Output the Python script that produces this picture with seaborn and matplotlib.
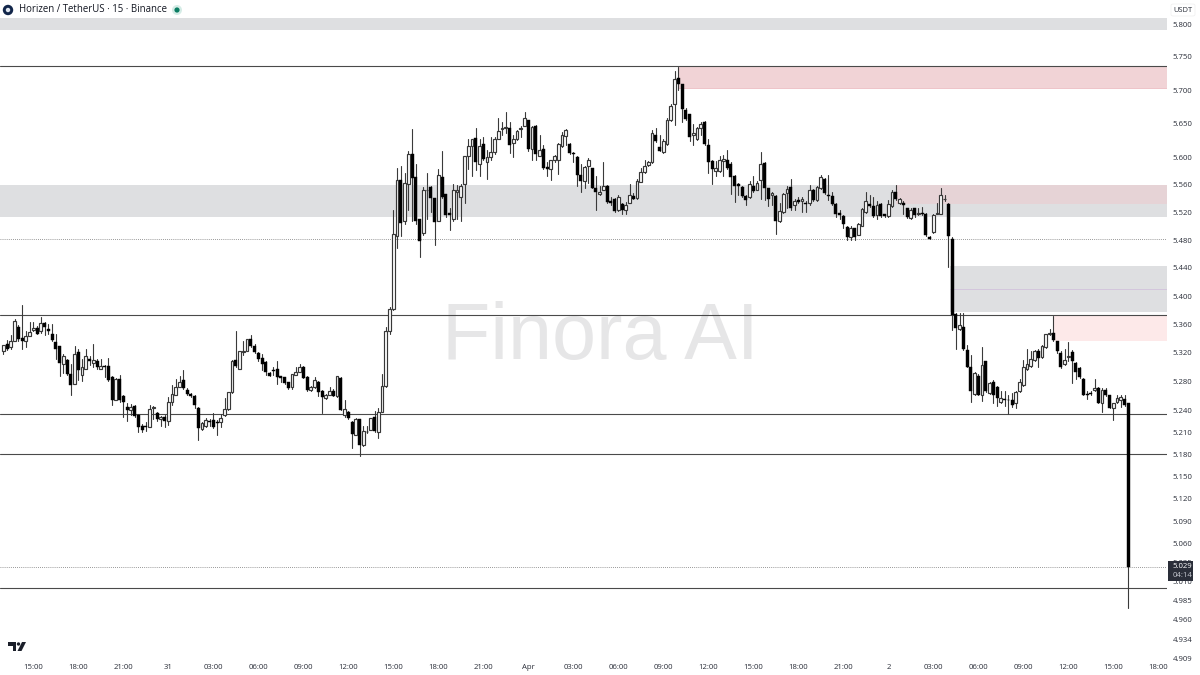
import numpy as np
import pandas as pd
import matplotlib
matplotlib.use("Agg")
import matplotlib.pyplot as plt
from matplotlib.patches import Ellipse, Rectangle, FancyBboxPatch, Polygon
import seaborn as sns

# 15 minute candles
candle_open = [
    5.322, 5.332, 5.328, 5.337, 5.357, 5.341, 5.336, 5.344, 5.352, 5.355, 5.350, 5.362,
    5.353, 5.346, 5.335, 5.329, 5.304, 5.310, 5.291, 5.277, 5.321, 5.289, 5.298, 5.311,
    5.306, 5.309, 5.298, 5.302, 5.302, 5.286, 5.255, 5.284, 5.260, 5.245, 5.241, 5.246,
    5.234, 5.219, 5.219, 5.217, 5.244, 5.237, 5.228, 5.231, 5.225, 5.252, 5.262, 5.273,
    5.282, 5.269, 5.263, 5.260, 5.244,
    5.215, 5.219, 5.226, 5.227, 5.224, 5.224, 5.234, 5.242, 5.265, 5.310, 5.297, 5.321,
    5.323, 5.340, 5.330, 5.320, 5.313, 5.307, 5.292, 5.296, 5.297, 5.288, 5.286, 5.279,
    5.272, 5.289, 5.294, 5.301, 5.287, 5.268, 5.272, 5.280, 5.267, 5.258, 5.262, 5.267,
    5.260, 5.285, 5.234, 5.238, 5.224, 5.207, 5.228, 5.193, 5.211, 5.213, 5.231, 5.210,
    5.238, 5.274,
    5.350, 5.382, 5.486, 5.567, 5.507, 5.561, 5.605, 5.572, 5.511, 5.490, 5.552, 5.557,
    5.541, 5.508, 5.571, 5.546, 5.519, 5.510, 5.550, 5.542, 5.561, 5.603, 5.617, 5.629,
    5.590, 5.620, 5.594, 5.601, 5.608, 5.628, 5.642, 5.644, 5.644, 5.622, 5.627, 5.642,
    5.647, 5.655, 5.612, 5.647, 5.602, 5.613, 5.586, 5.584, 5.596, 5.596, 5.617, 5.632,
    5.620, 5.607, 5.601,
    5.574, 5.565, 5.588, 5.585, 5.555, 5.546, 5.553, 5.559, 5.537, 5.540, 5.523, 5.532,
    5.524, 5.534, 5.544, 5.541, 5.564, 5.579, 5.589, 5.593, 5.634, 5.616, 5.608, 5.620,
    5.656, 5.679, 5.719, 5.709, 5.670, 5.664, 5.634, 5.628, 5.644, 5.653, 5.619, 5.595,
    5.580, 5.580, 5.595, 5.597, 5.591, 5.573, 5.562, 5.557, 5.544, 5.543, 5.559, 5.553,
    5.567, 5.592, 5.555,
    5.545, 5.544, 5.508, 5.520, 5.548, 5.557, 5.531, 5.538, 5.536, 5.533, 5.533, 5.552,
    5.538, 5.555, 5.569, 5.545, 5.544, 5.532, 5.519, 5.515, 5.499, 5.485, 5.497, 5.488,
    5.501, 5.520, 5.532, 5.529, 5.516, 5.532, 5.517, 5.515, 5.529, 5.550, 5.533, 5.533,
    5.526, 5.512, 5.526, 5.518, 5.519, 5.518, 5.485, 5.492, 5.518, 5.518, 5.539, 5.532,
    5.482,
    5.375, 5.353, 5.357, 5.324, 5.300, 5.263, 5.288, 5.262, 5.308, 5.264, 5.280, 5.273,
    5.252, 5.256, 5.255, 5.254, 5.251, 5.267, 5.276, 5.297, 5.302, 5.310, 5.322, 5.314,
    5.328, 5.346, 5.348, 5.336, 5.320, 5.305, 5.314, 5.321, 5.306, 5.299, 5.284, 5.263,
    5.264, 5.269, 5.271, 5.250, 5.269, 5.261, 5.244, 5.252, 5.255, 5.256, 5.250,
]
candle_high = [
    5.331, 5.338, 5.345, 5.368, 5.359, 5.388, 5.350, 5.364, 5.364, 5.358, 5.371, 5.363,
    5.361, 5.361, 5.347, 5.330, 5.319, 5.311, 5.304, 5.329, 5.325, 5.311, 5.325, 5.316,
    5.332, 5.311, 5.312, 5.303, 5.313, 5.288, 5.285, 5.289, 5.261, 5.250, 5.249, 5.248,
    5.235, 5.222, 5.224, 5.247, 5.246, 5.238, 5.233, 5.234, 5.259, 5.275, 5.284, 5.288,
    5.296, 5.271, 5.264, 5.261, 5.245,
    5.224, 5.230, 5.228, 5.236, 5.227, 5.235, 5.258, 5.266, 5.310, 5.350, 5.322, 5.336,
    5.340, 5.345, 5.333, 5.321, 5.319, 5.308, 5.294, 5.301, 5.309, 5.288, 5.287, 5.280,
    5.291, 5.300, 5.304, 5.302, 5.288, 5.274, 5.286, 5.281, 5.268, 5.263, 5.273, 5.270,
    5.288, 5.286, 5.255, 5.240, 5.225, 5.230, 5.229, 5.219, 5.219, 5.230, 5.240, 5.244,
    5.291, 5.357,
    5.385, 5.523, 5.585, 5.588, 5.578, 5.610, 5.642, 5.590, 5.511, 5.557, 5.577, 5.558,
    5.541, 5.584, 5.609, 5.547, 5.526, 5.561, 5.560, 5.561, 5.602, 5.628, 5.628, 5.644,
    5.628, 5.631, 5.611, 5.631, 5.630, 5.659, 5.652, 5.667, 5.652, 5.633, 5.641, 5.647,
    5.667, 5.656, 5.646, 5.648, 5.634, 5.619, 5.593, 5.597, 5.604, 5.621, 5.638, 5.642,
    5.621, 5.608, 5.602,
    5.590, 5.588, 5.600, 5.585, 5.573, 5.558, 5.593, 5.560, 5.543, 5.541, 5.545, 5.533,
    5.535, 5.561, 5.548, 5.568, 5.585, 5.597, 5.595, 5.641, 5.644, 5.633, 5.628, 5.658,
    5.680, 5.729, 5.735, 5.710, 5.674, 5.665, 5.650, 5.645, 5.653, 5.654, 5.628, 5.596,
    5.595, 5.602, 5.604, 5.611, 5.593, 5.574, 5.563, 5.559, 5.545, 5.565, 5.573, 5.565,
    5.608, 5.593, 5.556,
    5.550, 5.545, 5.533, 5.548, 5.558, 5.568, 5.540, 5.543, 5.543, 5.536, 5.560, 5.554,
    5.559, 5.575, 5.570, 5.575, 5.550, 5.533, 5.523, 5.516, 5.500, 5.500, 5.498, 5.505,
    5.526, 5.549, 5.545, 5.542, 5.536, 5.533, 5.518, 5.538, 5.552, 5.560, 5.541, 5.536,
    5.527, 5.527, 5.527, 5.527, 5.528, 5.519, 5.486, 5.518, 5.533, 5.555, 5.545, 5.533,
    5.484,
    5.376, 5.376, 5.376, 5.331, 5.317, 5.293, 5.290, 5.328, 5.308, 5.280, 5.282, 5.274,
    5.267, 5.267, 5.262, 5.264, 5.267, 5.284, 5.310, 5.325, 5.323, 5.324, 5.326, 5.331,
    5.346, 5.353, 5.372, 5.337, 5.322, 5.326, 5.335, 5.324, 5.307, 5.300, 5.285, 5.267,
    5.267, 5.284, 5.272, 5.271, 5.271, 5.262, 5.251, 5.262, 5.262, 5.262, 5.251,
]
candle_low = [
    5.319, 5.324, 5.325, 5.336, 5.336, 5.325, 5.328, 5.343, 5.350, 5.346, 5.348, 5.345,
    5.347, 5.336, 5.312, 5.288, 5.292, 5.289, 5.261, 5.277, 5.282, 5.281, 5.297, 5.303,
    5.301, 5.298, 5.297, 5.286, 5.281, 5.247, 5.254, 5.252, 5.231, 5.225, 5.234, 5.231,
    5.210, 5.210, 5.212, 5.217, 5.228, 5.226, 5.219, 5.217, 5.220, 5.247, 5.261, 5.273,
    5.270, 5.262, 5.259, 5.244, 5.200,
    5.214, 5.218, 5.219, 5.216, 5.206, 5.218, 5.233, 5.241, 5.264, 5.301, 5.297, 5.317,
    5.322, 5.328, 5.320, 5.308, 5.296, 5.289, 5.288, 5.289, 5.277, 5.280, 5.277, 5.270,
    5.270, 5.289, 5.293, 5.285, 5.267, 5.267, 5.271, 5.260, 5.237, 5.256, 5.261, 5.260,
    5.259, 5.241, 5.231, 5.228, 5.189, 5.207, 5.178, 5.192, 5.209, 5.213, 5.211, 5.202,
    5.238, 5.273,
    5.347, 5.380, 5.469, 5.486, 5.503, 5.523, 5.508, 5.503, 5.455, 5.488, 5.511, 5.521,
    5.473, 5.507, 5.541, 5.513, 5.494, 5.508, 5.511, 5.508, 5.533, 5.583, 5.573, 5.582,
    5.573, 5.597, 5.568, 5.596, 5.606, 5.627, 5.633, 5.636, 5.607, 5.601, 5.626, 5.631,
    5.646, 5.610, 5.596, 5.597, 5.602, 5.583, 5.573, 5.567, 5.593, 5.576, 5.616, 5.618,
    5.606, 5.593, 5.558,
    5.549, 5.555, 5.563, 5.555, 5.524, 5.545, 5.552, 5.534, 5.530, 5.520, 5.522, 5.517,
    5.518, 5.533, 5.539, 5.540, 5.564, 5.578, 5.588, 5.592, 5.623, 5.609, 5.607, 5.619,
    5.654, 5.648, 5.701, 5.653, 5.655, 5.624, 5.619, 5.626, 5.633, 5.619, 5.577, 5.562,
    5.573, 5.579, 5.573, 5.584, 5.547, 5.535, 5.545, 5.542, 5.531, 5.541, 5.550, 5.552,
    5.539, 5.538, 5.529,
    5.531, 5.489, 5.506, 5.519, 5.526, 5.524, 5.523, 5.533, 5.521, 5.521, 5.531, 5.536,
    5.537, 5.554, 5.547, 5.538, 5.531, 5.514, 5.511, 5.498, 5.480, 5.480, 5.480, 5.487,
    5.500, 5.519, 5.528, 5.514, 5.511, 5.513, 5.514, 5.514, 5.528, 5.538, 5.532, 5.518,
    5.512, 5.510, 5.513, 5.516, 5.516, 5.486, 5.481, 5.490, 5.517, 5.517, 5.536, 5.442,
    5.352,
    5.325, 5.352, 5.324, 5.300, 5.252, 5.262, 5.261, 5.253, 5.265, 5.263, 5.250, 5.246,
    5.250, 5.246, 5.235, 5.245, 5.244, 5.266, 5.274, 5.296, 5.300, 5.309, 5.300, 5.313,
    5.327, 5.345, 5.337, 5.320, 5.299, 5.303, 5.308, 5.278, 5.283, 5.285, 5.261, 5.256,
    5.262, 5.267, 5.250, 5.238, 5.260, 5.243, 5.227, 5.250, 5.245, 5.246, 4.975,
]
candle_close = [
    5.331, 5.326, 5.336, 5.365, 5.339, 5.336, 5.344, 5.349, 5.355, 5.347, 5.362, 5.357,
    5.351, 5.338, 5.326, 5.306, 5.316, 5.290, 5.275, 5.318, 5.296, 5.301, 5.316, 5.309,
    5.310, 5.300, 5.302, 5.300, 5.282, 5.254, 5.283, 5.255, 5.252, 5.241, 5.245, 5.232,
    5.217, 5.214, 5.217, 5.242, 5.245, 5.228, 5.231, 5.226, 5.252, 5.263, 5.273, 5.279,
    5.271, 5.263, 5.260, 5.248, 5.216,
    5.223, 5.227, 5.224, 5.217, 5.223, 5.230, 5.242, 5.266, 5.309, 5.302, 5.322, 5.323,
    5.340, 5.329, 5.321, 5.312, 5.305, 5.293, 5.288, 5.295, 5.287, 5.285, 5.278, 5.271,
    5.290, 5.294, 5.300, 5.285, 5.268, 5.272, 5.282, 5.266, 5.259, 5.262, 5.267, 5.260,
    5.288, 5.241, 5.242, 5.230, 5.208, 5.229, 5.193, 5.212, 5.210, 5.230, 5.212, 5.238,
    5.274, 5.350,
    5.382, 5.489, 5.567, 5.504, 5.563, 5.605, 5.570, 5.508, 5.479, 5.552, 5.553, 5.541,
    5.506, 5.574, 5.542, 5.516, 5.516, 5.552, 5.552, 5.558, 5.602, 5.617, 5.627, 5.593,
    5.617, 5.598, 5.601, 5.608, 5.627, 5.640, 5.644, 5.645, 5.619, 5.627, 5.640, 5.644,
    5.658, 5.612, 5.645, 5.606, 5.611, 5.585, 5.583, 5.596, 5.602, 5.620, 5.634, 5.641,
    5.607, 5.606, 5.575,
    5.565, 5.586, 5.597, 5.556, 5.550, 5.549, 5.558, 5.535, 5.533, 5.522, 5.543, 5.523,
    5.530, 5.545, 5.540, 5.566, 5.579, 5.587, 5.594, 5.637, 5.624, 5.610, 5.625, 5.656,
    5.677, 5.717, 5.709, 5.672, 5.657, 5.631, 5.636, 5.644, 5.649, 5.620, 5.594, 5.584,
    5.585, 5.597, 5.598, 5.585, 5.571, 5.559, 5.558, 5.544, 5.538, 5.562, 5.551, 5.563,
    5.590, 5.555, 5.539,
    5.548, 5.508, 5.522, 5.547, 5.554, 5.527, 5.537, 5.535, 5.540, 5.532, 5.552, 5.538,
    5.557, 5.572, 5.548, 5.544, 5.532, 5.517, 5.516, 5.503, 5.485, 5.498, 5.485, 5.503,
    5.525, 5.537, 5.529, 5.515, 5.531, 5.515, 5.515, 5.532, 5.550, 5.539, 5.540, 5.531,
    5.513, 5.524, 5.516, 5.519, 5.517, 5.488, 5.481, 5.516, 5.519, 5.545, 5.540, 5.486,
    5.373,
    5.355, 5.359, 5.325, 5.300, 5.267, 5.292, 5.262, 5.303, 5.267, 5.278, 5.262, 5.257,
    5.257, 5.254, 5.254, 5.247, 5.265, 5.280, 5.300, 5.305, 5.312, 5.322, 5.313, 5.330,
    5.346, 5.348, 5.338, 5.322, 5.300, 5.310, 5.316, 5.308, 5.294, 5.286, 5.262, 5.262,
    5.263, 5.271, 5.251, 5.269, 5.261, 5.244, 5.251, 5.257, 5.259, 5.247, 5.029,
]

price_ticks = [5.800, 5.750, 5.700, 5.650, 5.600, 5.560, 5.520, 5.480, 5.440, 5.400, 5.360, 5.320, 5.280,
               5.240, 5.210, 5.180, 5.150, 5.120, 5.090, 5.060, 5.035, 5.010, 4.985, 4.960, 4.934, 4.909]
time_labels = ["15:00", "18:00", "21:00", "31", "03:00", "06:00", "09:00", "12:00", "15:00", "18:00", "21:00",
               "Apr", "03:00", "06:00", "09:00", "12:00", "15:00", "18:00", "21:00", "2", "03:00", "06:00",
               "09:00", "12:00", "15:00", "18:00"]

# drawn zones: first candle, low price, high price, colour
zone_start = [-1, 180, -1, 238, 252.5, 280]
zone_low = [5.791, 5.703, 5.514, 5.532, 5.377, 5.336]
zone_high = [5.809, 5.736, 5.560, 5.560, 5.443, 5.372]
zone_color = ["#dedfe1", "#f1d3d6", "#dedfe1", "#e6d3d6", "#dedfe1", "#fde9e9"]

solid_levels = [5.7364, 5.3732, 5.235, 5.1806, 5.0015]
dotted_levels = [5.481, 5.029]

sns.set_theme(style="white")
plt.rcParams['font.family'] = ['Open Sans', 'DejaVu Sans']


def px(x, y):
    return x / 1200, 1 - y / 675


def dot(x, y, r, colour):
    return Ellipse(px(x, y), 2 * r / 1200, 2 * r / 675, color=colour, lw=0, transform=fig.transFigure)


candles = pd.DataFrame({"open": candle_open, "high": candle_high, "low": candle_low, "close": candle_close})
candles["candle"] = np.arange(len(candles))
up = candles["close"] >= candles["open"]

# long table so seaborn draws one wick per candle
wicks = candles.melt(id_vars="candle", value_vars=["high", "low"], value_name="price")

fig = plt.figure(figsize=(12, 6.75), dpi=100, facecolor="white")
ax = fig.add_axes([0, 1 - 660 / 675, 1167 / 1200, 660 / 675])
ax.set_yscale("log")
ax.patch.set_alpha(0)
left_edge = -3.33 / 3.75
right_edge = (1167 - 3.33) / 3.75

for start, low, high, colour in zip(zone_start, zone_low, zone_high, zone_color):
    ax.fill_between([max(start, left_edge), right_edge], low, high, color=colour, lw=0, zorder=1)
ax.plot([252.5, right_edge], [5.41, 5.41], color="#d3c6dc", lw=0.7, zorder=1.2)
ax.plot([180, right_edge], [5.703, 5.703], color="#eec3c8", lw=0.7, zorder=1.2)

for level in solid_levels:
    ax.axhline(level, color="#4a4a4a", lw=0.8, zorder=2)
for level in dotted_levels:
    ax.axhline(level, color="#777777", lw=0.6, ls=(0, (1, 1.5)), zorder=2)

fig.text(*px(600, 338), "Finora AI", fontsize=57, color="#e6e6e7", family="Liberation Sans",
         ha="center", va="center", zorder=-1)

sns.lineplot(data=wicks, x="candle", y="price", units="candle", estimator=None, sort=False,
             color="#3a3a3a", lw=0.8, legend=False, ax=ax, zorder=3)

body_low = candles[["open", "close"]].min(axis=1)
body_size = (candles["open"] - candles["close"]).abs()
ax.bar(candles.loc[~up, "candle"], body_size[~up], bottom=body_low[~up], width=0.78,
       color="black", edgecolor="black", lw=0.3, zorder=4)
ax.bar(candles.loc[up, "candle"], body_size[up], bottom=body_low[up], width=0.72,
       color="white", edgecolor="#383838", lw=0.85, zorder=4)

ax.set_xlim(left_edge, right_edge)
ax.set_ylim(4.9077, 5.8367)
ax.set_xlabel("")
ax.set_ylabel("")
for side in ax.spines:
    ax.spines[side].set_visible(False)

ax.yaxis.tick_right()
ax.yaxis.set_major_locator(plt.FixedLocator(price_ticks))
ax.yaxis.set_major_formatter(plt.FixedFormatter([f"{p:.3f}" for p in price_ticks]))
ax.yaxis.set_minor_locator(plt.NullLocator())
ax.set_xticks(np.arange(8, 8 + 12 * len(time_labels), 12))
ax.set_xticklabels(time_labels)
ax.set_xlim(left_edge, right_edge)
ax.tick_params(axis="y", length=0, labelsize=5.6, pad=4.2, labelcolor="#2a2e39")
ax.tick_params(axis="x", length=0, labelsize=5.6, pad=3.2, labelcolor="#2a2e39")

# header
fig.add_artist(dot(8, 10, 5.2, "#12264a"))
fig.add_artist(dot(8, 10, 2.2, "#dfe6f0"))
fig.text(*px(19, 10), "Horizen / TetherUS · 15 · Binance", fontsize=6.9, color="#131722", va="center")
fig.add_artist(dot(177, 10, 5, "#d5ece6"))
fig.add_artist(dot(177, 10, 2.6, "#0b7d63"))

# USDT label
fig.add_artist(FancyBboxPatch(px(1171, 16), 24 / 1200, 12 / 675, boxstyle="round,pad=0,rounding_size=0.002",
                              fc="white", ec="#eeeeee", lw=0.5, transform=fig.transFigure))
fig.text(*px(1173, 10), "USDT", fontsize=5.4, color="#2a2e39", va="center")

# last price tag
fig.add_artist(Rectangle(px(1168, 581), 25 / 1200, 20 / 675, fc="#2a2e39", ec="none", transform=fig.transFigure))
fig.text(*px(1172.5, 566), "5.029", fontsize=5.6, color="white", va="center")
fig.text(*px(1172.5, 575.5), "04:14", fontsize=5.6, color="#c5c8d0", va="center")

# tradingview mark
fig.add_artist(Polygon([px(8, 642), px(16, 642), px(16, 651), px(12.5, 651), px(12.5, 645.5), px(8, 645.5)],
                       fc="#1b1f2a", ec="none", transform=fig.transFigure))
fig.add_artist(dot(18.5, 644, 1.7, "#1b1f2a"))
fig.add_artist(Polygon([px(22, 642), px(26, 642), px(21.5, 651), px(17.5, 651)],
                       fc="#1b1f2a", ec="none", transform=fig.transFigure))

fig.savefig("out.png", dpi=100)
